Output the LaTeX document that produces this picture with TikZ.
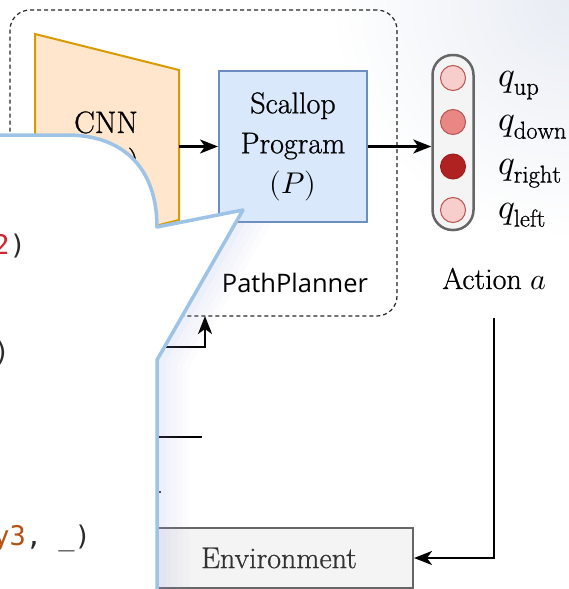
\documentclass[tikz,border=0pt]{standalone}
\usepackage{fontspec}
\usepackage{unicode-math}
\setmainfont{Latin Modern Roman}[FakeBold=0.8]
\setmathfont{Latin Modern Math}
\newfontfamily\plannerfont{Open Sans}
\newfontfamily\codefont{DejaVu Sans Mono}
\usetikzlibrary{arrows.meta}

\definecolor{cnnfill}{HTML}{FFE6CC}
\definecolor{cnnline}{HTML}{D79B00}
\definecolor{scallopfill}{HTML}{DAE8FC}
\definecolor{scallopline}{HTML}{6C8EBF}
\definecolor{boxline}{HTML}{666666}
\definecolor{boxfill}{HTML}{F4F4F4}
\definecolor{envtext}{HTML}{333333}
\definecolor{qlight}{HTML}{F8CECC}
\definecolor{qmid}{HTML}{E88784}
\definecolor{qdark}{HTML}{B02222}
\definecolor{qedge}{HTML}{B85450}
\definecolor{bubbleline}{HTML}{9DC3E6}
\definecolor{shadowc}{HTML}{A0A8E0}
\definecolor{haze}{HTML}{E8ECF3}
\definecolor{codered}{HTML}{D0262F}
\definecolor{codebrown}{HTML}{B35214}
\definecolor{codedark}{HTML}{2B2B2B}

\tikzset{
  arr/.style={line width=2.5pt, -{Stealth[length=18pt, width=14pt, inset=5pt]}},
  plainbox/.style={line width=2pt, inner sep=0pt},
  qdot/.style={circle, minimum size=25pt, inner sep=0pt, line width=1pt, draw=qedge},
  qlabel/.style={anchor=base west, inner sep=0pt, font=\fontsize{35}{40}\selectfont},
  codetext/.style={anchor=base east, inner sep=0pt, text=codedark, font=\codefont\fontsize{27}{30}\selectfont}
}

\begin{document}
\begin{tikzpicture}[x=1pt, y=-1pt]
\useasboundingbox (0,0) rectangle (569,589);

% faint haze in the upper right corner
\begin{scope}
  \clip (0,0) rectangle (569,589);
  \shade[inner color=haze, outer color=white] (569,0) circle (240);
\end{scope}

% PathPlanner frame
\node[draw=black!85, line width=1.2pt, dash pattern=on 4pt off 3pt,
      rounded corners=20pt, minimum width=387pt, minimum height=306pt,
      inner sep=0pt] (planner) at (203.5,163) {};
\node[anchor=base, inner sep=0pt, font=\plannerfont\fontsize{25.5}{30}\selectfont]
      (plannerlabel) at (295,292) {PathPlanner};

% CNN trapezoid
\filldraw[fill=cnnfill, draw=cnnline, line width=2pt, line join=miter]
  (35,34) -- (179,70) -- (179,220) -- (35,256) -- cycle;
\node[anchor=base, inner sep=0pt, font=\fontsize{31}{36}\selectfont] (cnn) at (106,133) {CNN};
\node[anchor=base east, inner sep=0pt, font=\fontsize{31}{36}\selectfont] (cnnpar) at (139,171) {)};
\coordinate (cnnout) at (179,146.5);

% Scallop program
\node[plainbox, draw=scallopline, fill=scallopfill, minimum width=148pt,
      minimum height=151pt, align=center, font=\fontsize{30}{40}\selectfont]
      (scallop) at (293,146.5) {Scallop\\Program\\$(P)$};

\draw[arr] (cnnout) -- (scallop.west);

% action vector
\node[draw=boxline, fill=boxfill, line width=2.5pt, rounded corners=20pt,
      minimum width=41pt, minimum height=175pt, inner sep=0pt] (action) at (453,142.5) {};
\node[qdot, fill=qlight] (qup) at (453,78) {};
\node[qdot, fill=qmid] (qdown) at (453,122) {};
\node[qdot, fill=qdark, draw=qdark!90!black] (qright) at (453,166.5) {};
\node[qdot, fill=qlight] (qleft) at (453,210) {};

\node[qlabel] (lup) at (498,86) {$q_{\mathrm{up}}$};
\node[qlabel] (ldown) at (498,130) {$q_{\mathrm{down}}$};
\node[qlabel] (lright) at (498,174) {$q_{\mathrm{right}}$};
\node[qlabel] (lleft) at (498,218) {$q_{\mathrm{left}}$};

\draw[arr] (scallop.east) -- (scallop.east -| action.west);

\node[anchor=base, inner sep=0pt, font=\fontsize{30}{34}\selectfont] (actlabel) at (494.5,289) {Action $a$};

% environment and the loop back
\node[plainbox, draw=boxline, fill=boxfill, minimum width=268pt, minimum height=60pt,
      text=envtext, font=\fontsize{30}{34}\selectfont] (env) at (279,558) {Environment};
\coordinate (rettop) at (494,318);
\draw[arr] (rettop) |- (env.east);

\coordinate (fbstart) at (120,347);
\coordinate (fbend) at (205,316);
\draw[arr] (fbstart) -| (fbend);

\coordinate (stubA) at (120,437);
\coordinate (stubB) at (202,437);
\draw[line width=2.5pt] (stubA) -- (stubB);
\fill (160,492) circle (1.2);

% soft shadow of the callout
\begin{scope}
  \clip (150,222) rectangle (569,589);
  \foreach \w/\o in {56/0.03, 44/0.035, 32/0.04, 20/0.045, 10/0.05}
    \draw[draw=shadowc, opacity=\o, line width=\w pt, line join=round]
      (247,210) -- (161,360) -- (161,600);
\end{scope}

% callout
\fill[white] (-10,135) -- (67,135) .. controls (125,135) and (157,170) .. (157,227)
  -- (243,210) -- (157,360) -- (157,600) -- (-10,600) -- cycle;
\draw[draw=bubbleline, line width=3.5pt, line join=round]
  (-10,135) -- (67,135) .. controls (125,135) and (157,170) .. (157,227)
  -- (243,210) -- (157,360) -- (157,600);

% code fragments inside the callout
\node[codetext] (codeA) at (26,254) {\textcolor{codered}{2})};
\node[codetext] (codeB) at (10,361) {)};
\node[codetext] (codeC) at (91,545) {\textcolor{codebrown}{y3}, \_)};
\end{tikzpicture}
\end{document}
